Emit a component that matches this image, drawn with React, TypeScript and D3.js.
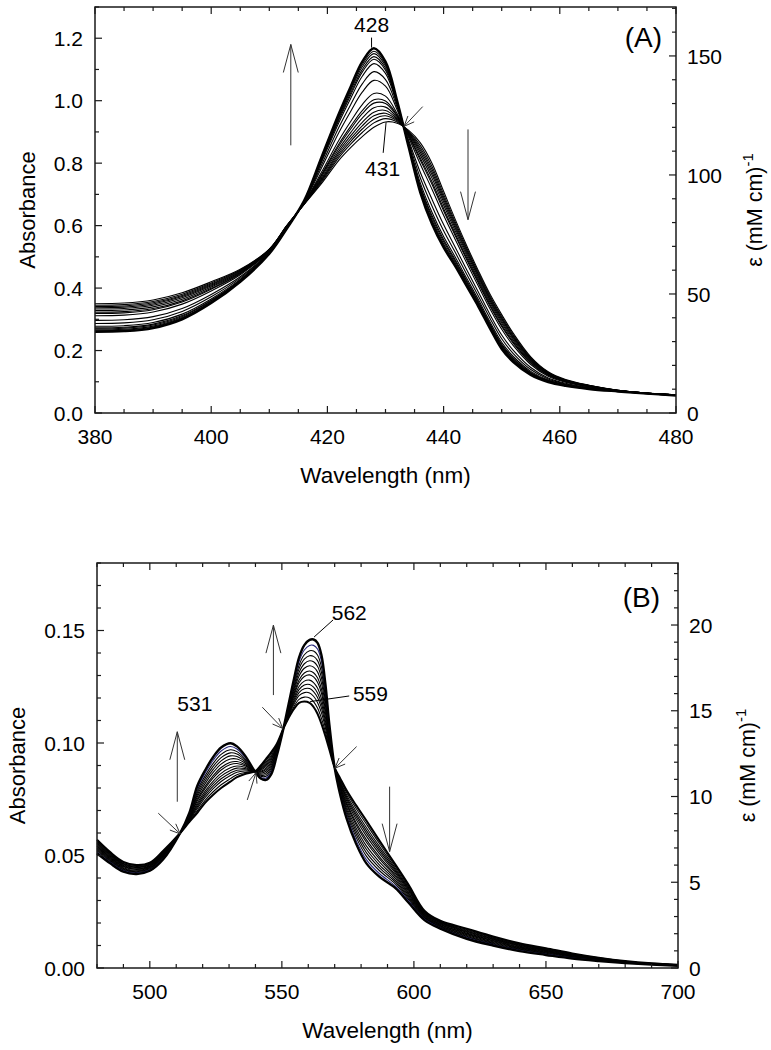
import React from 'react';
import * as d3 from 'd3';

// panel A: Soret region
const waveA = [380, 385, 390, 395, 400, 405, 410, 413, 416, 419, 422, 424, 426, 428, 430, 432, 434, 436, 438, 440, 442, 444, 446, 448, 450, 452, 455, 458, 461, 465, 470, 475, 480];
const finalA = [0.26, 0.262, 0.272, 0.3, 0.352, 0.42, 0.51, 0.59, 0.68, 0.82, 0.96, 1.045, 1.125, 1.168, 1.125, 1.0, 0.85, 0.705, 0.605, 0.53, 0.47, 0.405, 0.34, 0.27, 0.205, 0.163, 0.122, 0.099, 0.087, 0.077, 0.069, 0.062, 0.056];
const initialA = [0.35, 0.352, 0.362, 0.385, 0.42, 0.46, 0.525, 0.6, 0.668, 0.735, 0.81, 0.85, 0.885, 0.915, 0.932, 0.928, 0.905, 0.865, 0.8, 0.71, 0.62, 0.535, 0.455, 0.38, 0.315, 0.255, 0.18, 0.132, 0.107, 0.089, 0.073, 0.064, 0.058];
// peak heights of the recorded spectra, highest first
const peaksA = [1.168, 1.159, 1.152, 1.143, 1.135, 1.122, 1.098, 1.072, 1.033, 1.014, 1.004, 0.99, 0.977, 0.966, 0.956, 0.945, 0.932];

// panel B: visible region
const waveB = [480, 485, 490, 495, 500, 505, 511.5, 515, 518, 521, 524, 527, 530.5, 533, 536, 540, 542, 544, 546, 548, 550.6, 552.5, 554.5, 556.5, 558.5, 560.5, 562, 563.5, 565, 566.5, 568, 570, 572, 574.5, 578, 582, 587, 593, 598, 604, 610, 620, 630, 640, 650, 660, 670, 680, 690, 700];
const finalB = [0.051, 0.0465, 0.0428, 0.0418, 0.0432, 0.0482, 0.06, 0.069, 0.081, 0.088, 0.0938, 0.098, 0.0999, 0.0985, 0.0945, 0.087, 0.0842, 0.0836, 0.0862, 0.094, 0.1065, 0.117, 0.128, 0.138, 0.1435, 0.1458, 0.146, 0.1445, 0.139, 0.126, 0.108, 0.089, 0.0775, 0.0665, 0.0555, 0.0465, 0.0405, 0.0355, 0.029, 0.0213, 0.0175, 0.013, 0.01, 0.0075, 0.0058, 0.0042, 0.0031, 0.0022, 0.0015, 0.001];
const initialB = [0.057, 0.0515, 0.0472, 0.0458, 0.0468, 0.052, 0.06, 0.065, 0.069, 0.0735, 0.077, 0.08, 0.0828, 0.0848, 0.0862, 0.0875, 0.09, 0.093, 0.096, 0.0995, 0.1065, 0.111, 0.115, 0.1178, 0.1184, 0.1178, 0.116, 0.113, 0.1085, 0.103, 0.097, 0.089, 0.0845, 0.079, 0.0725, 0.0655, 0.0565, 0.046, 0.037, 0.0255, 0.021, 0.0175, 0.014, 0.011, 0.0088, 0.0065, 0.0046, 0.0031, 0.0021, 0.0015];
const peaksB = [0.146, 0.1436, 0.1413, 0.1391, 0.1369, 0.1347, 0.1324, 0.1307, 0.1284, 0.1265, 0.1247, 0.1228, 0.1206, 0.1184];

const xTicksA = [380, 400, 420, 440, 460, 480];
const yTicksA = [0, 0.2, 0.4, 0.6, 0.8, 1.0, 1.2];
const epsTicksA = [0, 50, 100, 150];
const xTicksB = [500, 550, 600, 650, 700];
const yTicksB = [0, 0.05, 0.1, 0.15];
const epsTicksB = [0, 5, 10, 15, 20];

// annotations in data units (nm, absorbance)
const notesA = [
  { text: '428', x: 427.6, y: 1.219, anchor: 'middle' },
  { text: '431', x: 429.5, y: 0.76, anchor: 'middle' },
];
const leadersA = [
  { x1: 427.6, y1: 1.202, x2: 427.6, y2: 1.17 },
  { x1: 429.6, y1: 0.833, x2: 430.1, y2: 0.931 },
];
const arrowsA = [
  { x1: 413.7, y1: 0.857, x2: 413.7, y2: 1.18, big: true },
  { x1: 444.2, y1: 0.908, x2: 444.2, y2: 0.619, big: true },
  { x1: 436.4, y1: 0.981, x2: 433.2, y2: 0.918, big: false },
];
const notesB = [
  { text: '562', x: 568.9, y: 0.1547, anchor: 'start' },
  { text: '559', x: 576.9, y: 0.1187, anchor: 'start' },
  { text: '531', x: 510.4, y: 0.1142, anchor: 'start' },
];
const leadersB = [
  { x1: 562.2, y1: 0.1471, x2: 569.4, y2: 0.1547 },
  { x1: 560.7, y1: 0.1184, x2: 575.5, y2: 0.1209 },
];
const arrowsB = [
  { x1: 510.4, y1: 0.0739, x2: 510.4, y2: 0.105, big: true },
  { x1: 546.8, y1: 0.1213, x2: 546.8, y2: 0.1524, big: true },
  { x1: 590.8, y1: 0.0806, x2: 590.8, y2: 0.0517, big: true },
  { x1: 503.2, y1: 0.0688, x2: 511.5, y2: 0.0596, big: false },
  { x1: 536.9, y1: 0.0747, x2: 540.2, y2: 0.0868, big: false },
  { x1: 542.6, y1: 0.1159, x2: 550.3, y2: 0.1065, big: false },
  { x1: 578.3, y1: 0.0984, x2: 570.1, y2: 0.0888, big: false },
];

const EPS_PER_ABS = 131.2;
const FONT = 'Liberation Sans, Arial, Helvetica, sans-serif';

interface Box { left: number; right: number; top: number; bottom: number; }

interface PanelProps {
  box: Box;
  wave: number[];
  fin: number[];
  ini: number[];
  peaks: number[];
  xDomain: [number, number];
  yMax: number;
  xTicks: number[];
  xMinor: number;
  yTicks: number[];
  yMinor: number;
  yFmt: string;
  epsTicks: number[];
  epsMinor: number;
  label: string;
  labelPos: [number, number];
  notes: { text: string; x: number; y: number; anchor: string }[];
  leaders: { x1: number; y1: number; x2: number; y2: number }[];
  arrows: { x1: number; y1: number; x2: number; y2: number; big: boolean }[];
  yTitleX: number;
  epsTitleX: number;
  blueIndex: number;
  thickInitial: boolean;
}

const Panel = (p: PanelProps) => {
  const { box } = p;
  const x = d3.scaleLinear().domain(p.xDomain).range([box.left, box.right]);
  const y = d3.scaleLinear().domain([0, p.yMax]).range([box.bottom, box.top]);
  const eps = d3.scaleLinear().domain([0, p.yMax * EPS_PER_ABS]).range([box.bottom, box.top]);

  // each recorded spectrum sits between the initial and final one, placed by its peak height
  const pI = d3.max(p.ini) as number;
  const pF = d3.max(p.fin) as number;
  const spectra = p.peaks.map((pk) => {
    const f = (pk - pI) / (pF - pI);
    return p.wave.map((w, i) => [w, p.ini[i] + f * (p.fin[i] - p.ini[i])] as [number, number]);
  });

  const line = d3
    .line<[number, number]>()
    .x((d) => x(d[0]))
    .y((d) => y(d[1]))
    .curve(d3.curveCatmullRom.alpha(0.5));

  const xMinorTicks = d3.range(p.xDomain[0], p.xDomain[1] + 0.001, p.xMinor);
  const yMinorTicks = d3.range(0, p.yMax + 1e-9, p.yMinor);
  const epsMax = p.yMax * EPS_PER_ABS;
  const epsMinorTicks = d3.range(0, epsMax, p.epsMinor);
  const isMajor = (v: number, list: number[]) => list.some((t) => Math.abs(t - v) < 1e-6);
  const fmt = d3.format(p.yFmt);
  const axisColor = '#1a1a1a';

  const arrowHead = (a: { x1: number; y1: number; x2: number; y2: number; big: boolean }) => {
    const tx = x(a.x2), ty = y(a.y2);
    const ang = Math.atan2(y(a.y1) - ty, x(a.x1) - tx);
    const len = a.big ? 29 : 11;
    const spread = a.big ? 0.26 : 0.4;
    const pts = [ang - spread, ang + spread].map((t) => [tx + len * Math.cos(t), ty + len * Math.sin(t)]);
    return `M${pts[0][0]},${pts[0][1]}L${tx},${ty}L${pts[1][0]},${pts[1][1]}`;
  };

  const cy = (box.top + box.bottom) / 2;
  const cx = (box.left + box.right) / 2;

  return (
    <g fontFamily={FONT}>
      {/* spectra, lowest first so the final one sits on top */}
      {spectra
        .map((s, i) => ({ s, i }))
        .reverse()
        .map(({ s, i }) => {
          const last = i === spectra.length - 1;
          let w = 1.1;
          if (i === 0) w = 2.4;
          else if (last && p.thickInitial) w = 2;
          return (
            <path
              key={i}
              d={line(s) || ''}
              fill="none"
              stroke={i === p.blueIndex ? '#26267a' : '#000'}
              strokeWidth={w}
            />
          );
        })}

      {/* frame */}
      <rect
        x={box.left}
        y={box.top}
        width={box.right - box.left}
        height={box.bottom - box.top}
        fill="none"
        stroke={axisColor}
        strokeWidth={1.5}
      />

      {/* x ticks bottom & top */}
      {xMinorTicks.map((t) => {
        const L = isMajor(t, p.xTicks) ? 7 : 4;
        return (
          <g key={'x' + t} stroke={axisColor} strokeWidth={1.2}>
            <line x1={x(t)} x2={x(t)} y1={box.bottom} y2={box.bottom - L} />
            <line x1={x(t)} x2={x(t)} y1={box.top} y2={box.top + L} />
          </g>
        );
      })}
      {p.xTicks.map((t) => (
        <text key={'xl' + t} x={x(t)} y={box.bottom + 31} fontSize={21} textAnchor="middle">
          {t}
        </text>
      ))}

      {/* left ticks */}
      {yMinorTicks.map((t) => {
        const L = isMajor(t, p.yTicks) ? 7 : 4;
        return (
          <line key={'y' + t} x1={box.left} x2={box.left + L} y1={y(t)} y2={y(t)} stroke={axisColor} strokeWidth={1.2} />
        );
      })}
      {p.yTicks.map((t) => (
        <text key={'yl' + t} x={box.left - 12} y={y(t)} dy="0.36em" fontSize={21} textAnchor="end">
          {fmt(t)}
        </text>
      ))}

      {/* right ticks (extinction coefficient) */}
      {epsMinorTicks.map((t) => {
        const L = isMajor(t, p.epsTicks) ? 7 : 4;
        return (
          <line key={'e' + t} x1={box.right} x2={box.right - L} y1={eps(t)} y2={eps(t)} stroke={axisColor} strokeWidth={1.2} />
        );
      })}
      {p.epsTicks.map((t) => (
        <text key={'el' + t} x={box.right + 11} y={eps(t)} dy="0.36em" fontSize={21} textAnchor="start">
          {t}
        </text>
      ))}

      {/* axis titles */}
      <text x={cx} y={box.bottom + 70} fontSize={22.5} textAnchor="middle">
        Wavelength (nm)
      </text>
      <text transform={`translate(${p.yTitleX},${cy}) rotate(-90)`} fontSize={22} textAnchor="middle">
        Absorbance
      </text>
      <text transform={`translate(${p.epsTitleX},${cy}) rotate(-90)`} fontSize={21.5} textAnchor="middle">
        ε (mM cm)
        <tspan dy={-9} fontSize={15}>
          -1
        </tspan>
      </text>

      {/* panel label */}
      <text x={p.labelPos[0]} y={p.labelPos[1]} fontSize={28} textAnchor="end">
        {p.label}
      </text>

      {/* annotations */}
      {p.leaders.map((l, i) => (
        <line key={'ld' + i} x1={x(l.x1)} y1={y(l.y1)} x2={x(l.x2)} y2={y(l.y2)} stroke="#000" strokeWidth={1} />
      ))}
      {p.arrows.map((a, i) => (
        <g key={'ar' + i} stroke="#333" strokeWidth={1} fill="none">
          <line x1={x(a.x1)} y1={y(a.y1)} x2={x(a.x2)} y2={y(a.y2)} />
          <path d={arrowHead(a)} />
        </g>
      ))}
      {p.notes.map((n, i) => (
        <text key={'n' + i} x={x(n.x)} y={y(n.y)} fontSize={21} textAnchor={n.anchor as any}>
          {n.text}
        </text>
      ))}
    </g>
  );
};

const App = () => {
  return (
    <svg
      width={771}
      height={1050}
      style={{ position: 'absolute', left: 0, top: 0, background: '#fff' }}
    >
      <rect width={771} height={1050} fill="#fff" />
      <Panel
        box={{ left: 95, right: 676, top: 7, bottom: 413 }}
        wave={waveA}
        fin={finalA}
        ini={initialA}
        peaks={peaksA}
        xDomain={[380, 480]}
        yMax={1.3}
        xTicks={xTicksA}
        xMinor={5}
        yTicks={yTicksA}
        yMinor={0.1}
        yFmt=".1f"
        epsTicks={epsTicksA}
        epsMinor={10}
        label="(A)"
        labelPos={[662, 47]}
        notes={notesA}
        leaders={leadersA}
        arrows={arrowsA}
        yTitleX={35}
        epsTitleX={762}
        blueIndex={-1}
        thickInitial={false}
      />
      <Panel
        box={{ left: 97, right: 678, top: 563, bottom: 968 }}
        wave={waveB}
        fin={finalB}
        ini={initialB}
        peaks={peaksB}
        xDomain={[480, 700]}
        yMax={0.18}
        xTicks={xTicksB}
        xMinor={10}
        yTicks={yTicksB}
        yMinor={0.01}
        yFmt=".2f"
        epsTicks={epsTicksB}
        epsMinor={1}
        label="(B)"
        labelPos={[660, 607]}
        notes={notesB}
        leaders={leadersB}
        arrows={arrowsB}
        yTitleX={25}
        epsTitleX={755}
        blueIndex={1}
        thickInitial={true}
      />
    </svg>
  );
};

export default App;
